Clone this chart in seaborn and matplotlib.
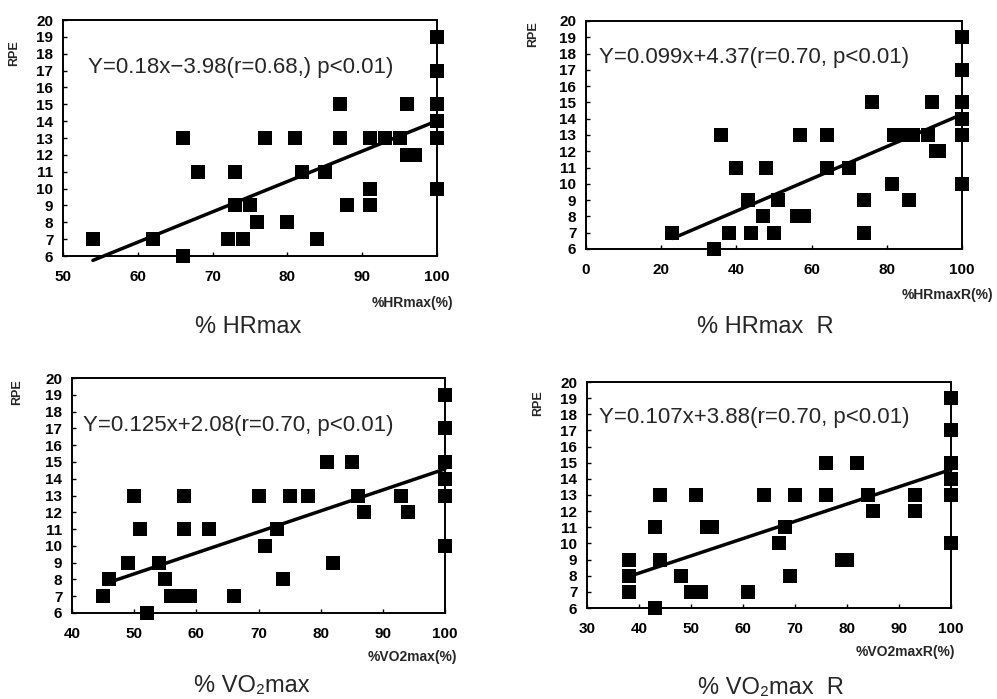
import matplotlib
matplotlib.use('Agg')
import numpy as np
import pandas as pd
import matplotlib.pyplot as plt
import seaborn as sns

# ---- datos ----
x_hrmax = [54, 62, 66, 66, 68, 72, 73, 73, 74, 75, 76, 77, 80, 81, 82, 84, 85,
           87, 87, 88, 91, 91, 91, 93, 95, 96, 96, 97, 100, 100, 100, 100, 100, 100]
y_hrmax = [7, 7, 13, 6, 11, 7, 11, 9, 7, 9, 8, 13, 8, 13, 11, 7, 11,
           15, 13, 9, 13, 10, 9, 13, 13, 15, 12, 12, 19, 17, 15, 14, 13, 10]

x_hrmaxr = [23, 34, 36, 38, 40, 43, 44, 47, 48, 50, 51, 56, 57, 58, 64, 64, 70, 74,
            74, 76, 81.5, 82, 86, 85, 87, 91, 92, 93, 94, 100, 100, 100, 100, 100, 100]
y_hrmaxr = [7, 6, 13, 7, 11, 9, 7, 8, 11, 7, 9, 8, 13, 8, 13, 11, 11, 9,
            7, 15, 10, 13, 9, 13, 13, 13, 15, 12, 12, 19, 17, 15, 14, 13, 10]

x_vo2max = [45, 46, 49, 50, 51, 52, 54, 55, 56, 57, 58, 58, 58, 59, 62, 66, 70, 71,
            73, 74, 75, 78, 81, 82, 85, 86, 87, 93, 94, 100, 100, 100, 100, 100, 100]
y_vo2max = [7, 8, 9, 13, 11, 6, 9, 8, 7, 7, 13, 11, 7, 7, 11, 7, 13, 10,
            11, 8, 13, 13, 15, 9, 15, 13, 12, 13, 12, 19, 17, 15, 14, 13, 10]

x_vo2maxr = [38, 38, 38, 43, 43, 44, 44, 48, 50, 51, 52, 53, 54, 61, 64, 67, 68,
             69, 70, 76, 76, 79, 80, 82, 84, 85, 93, 93, 100, 100, 100, 100, 100, 100]
y_vo2maxr = [7, 8, 9, 11, 6, 13, 9, 8, 7, 13, 7, 11, 11, 7, 13, 10, 11,
             8, 13, 15, 13, 9, 9, 15, 13, 12, 13, 12, 19, 17, 15, 14, 13, 10]

# rectas de regresion (pendiente, intercepto) y x inicial de la recta
pendientes = [0.18, 0.099, 0.125, 0.107]
interceptos = [-3.98, 4.37, 2.08, 3.88]
x_inicio = [54, 23, 46, 38]

ecuaciones = ["Y=0.18x\u22123.98(r=0.68,) p<0.01)",
              "Y=0.099x+4.37(r=0.70, p<0.01)",
              "Y=0.125x+2.08(r=0.70, p<0.01)",
              "Y=0.107x+3.88(r=0.70, p<0.01)"]
etiquetas_x = ["%HRmax(%)", "%HRmaxR(%)", "%VO2max(%)", "%VO2maxR(%)"]
titulos = ["% HRmax", "% HRmax  R", "% VO\u2082max", "% VO\u2082max  R"]
limites_x = [(50, 100), (0, 100), (40, 100), (30, 100)]
paso_x = [10, 20, 10, 10]

# ---- configuracion ----
sns.set_theme(style="ticks")
plt.rcParams['font.family'] = ['Liberation Sans', 'DejaVu Sans']

W, H = 997, 699
fig = plt.figure(figsize=(W / 100, H / 100), dpi=100)

# cajas de ejes en pixeles: izq, der, arriba, abajo
cajas = [(63, 437, 20, 256), (586, 962, 21, 249), (72, 445, 378, 613), (587, 951, 382, 608)]
pos_ecuacion = [(88, 67), (599, 58), (83, 425), (599, 418)]
pos_xlabel = [(453, 303), (993, 295), (457, 657), (955, 652)]
pos_ylabel = [(14, 53), (533, 34), (17, 392), (538, 403)]
pos_titulo = [(248, 327), (765, 327), (252, 686), (771, 688)]

datos = [(x_hrmax, y_hrmax), (x_hrmaxr, y_hrmaxr), (x_vo2max, y_vo2max), (x_vo2maxr, y_vo2maxr)]

for i, (xs, ys) in enumerate(datos):
    l, r, t, b = cajas[i]
    ax = fig.add_axes([l / W, 1 - b / H, (r - l) / W, (b - t) / H])
    df = pd.DataFrame({'x': xs, 'RPE': ys})
    sns.scatterplot(data=df, x='x', y='RPE', marker='s', s=88, color='black',
                    linewidth=0, ax=ax, clip_on=False, zorder=3)

    recta = pd.DataFrame({'x': [x_inicio[i], 100]})
    recta['y'] = pendientes[i] * recta['x'] + interceptos[i]
    sns.lineplot(data=recta, x='x', y='y', color='black', linewidth=2.5, ax=ax,
                 clip_on=False, zorder=2)

    ax.set_xlim(*limites_x[i])
    ax.set_ylim(6, 20)
    ax.set_xticks(np.arange(limites_x[i][0], 101, paso_x[i]))
    ax.set_yticks(np.arange(6, 21, 1))
    ax.tick_params(direction='in', length=3, width=1, colors='black', labelsize=11)
    ax.tick_params(axis='y', pad=7)
    ax.tick_params(axis='x', pad=10)
    for lab in ax.get_xticklabels() + ax.get_yticklabels():
        lab.set_fontweight('bold')
    for sp in ax.spines.values():
        sp.set_visible(True)
        sp.set_color('black')
        sp.set_linewidth(1.4)
    ax.set_xlabel("")
    ax.set_ylabel("")

    fig.text(pos_ecuacion[i][0] / W, 1 - pos_ecuacion[i][1] / H, ecuaciones[i],
             fontsize=16, va='center', ha='left',
             family=['Liberation Sans Narrow', 'Liberation Sans'])
    fig.text(pos_xlabel[i][0] / W, 1 - pos_xlabel[i][1] / H, etiquetas_x[i],
             fontsize=10, fontweight='bold', ha='right', va='center')
    fig.text(pos_ylabel[i][0] / W, 1 - pos_ylabel[i][1] / H, "RPE",
             fontsize=9, fontweight='bold', rotation=90, ha='center', va='center')
    fig.text(pos_titulo[i][0] / W, 1 - pos_titulo[i][1] / H, titulos[i],
             fontsize=17, ha='center', va='center')

plt.savefig("out.png", dpi=100)
plt.close()
